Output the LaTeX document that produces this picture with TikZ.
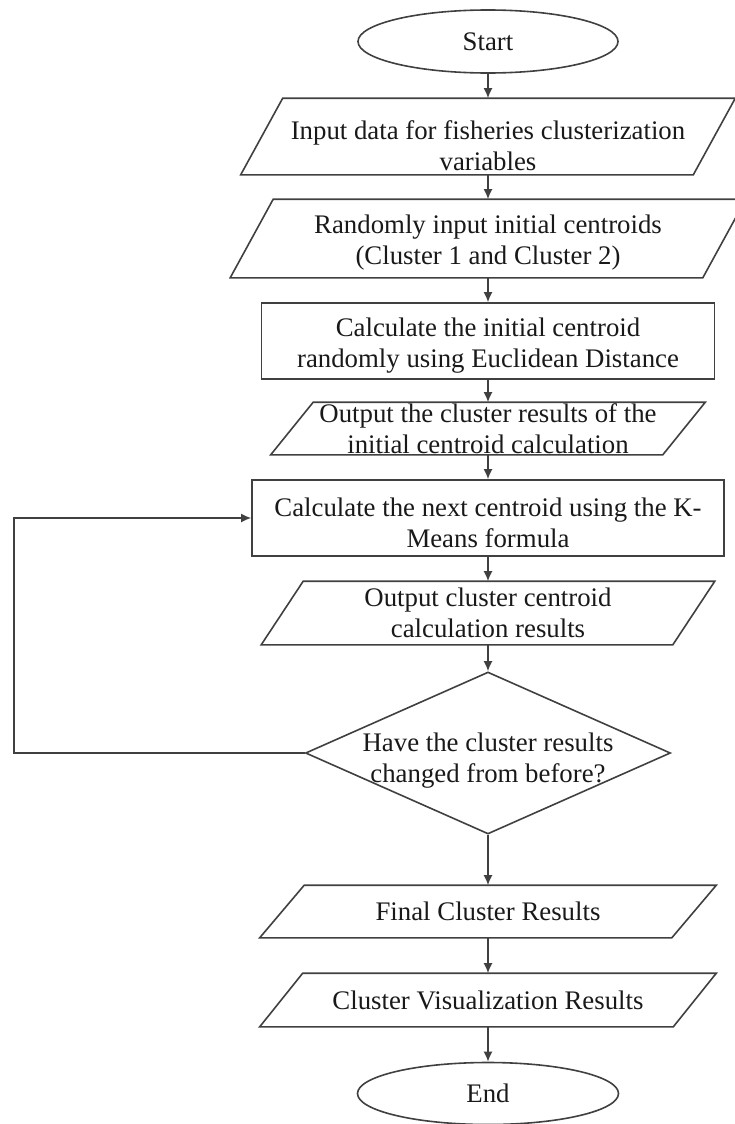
\documentclass[tikz,border=0pt]{standalone}
\usepackage{fontspec}
\setmainfont{Liberation Serif}
\usetikzlibrary{arrows.meta,positioning,shapes.geometric}

\begin{document}
\begin{tikzpicture}[->,>={Latex[length=5pt,width=4.5pt]},x=0.5pt,y=-0.5pt,line width=0.8pt,
	main node/.style={draw=black!75,text=black!90,align=center,inner xsep=2pt,inner ysep=1pt,
		font=\fontsize{13.4}{15.5}\selectfont},
	term/.style={main node,ellipse,minimum width=130pt,minimum height=31.5pt},
	io/.style={main node,rectangle,draw=none},
	proc/.style={main node,rectangle,minimum height=38pt},
	cond/.style={main node,diamond,aspect=2.25,inner xsep=-13.5pt,inner ysep=0pt,
		minimum width=182.5pt,minimum height=81pt}]
\useasboundingbox (0,0) rectangle (734,1124);
\node[term] (start) at (488,41.5) {Start};
\node[io,minimum width=246.5pt,minimum height=37.5pt,inner ysep=0pt] (data) [node distance=47.5pt,below of=start] {\rule{0pt}{19pt}Input data for fisheries clusterization\\variables};
\node[io,minimum width=257pt,minimum height=38.5pt] (init) [node distance=51pt,below of=data] {\rule{0pt}{13pt}Randomly input initial centroids\\(Cluster 1 and Cluster 2)};
\node[proc,minimum width=226.5pt] (calc1) [node distance=51.25pt,below of=init] {\rule{0pt}{14pt}Calculate the initial centroid\\randomly using Euclidean Distance};
\node[io,minimum width=216.5pt,minimum height=25.5pt,inner ysep=-1.5pt] (out1) [node distance=43.75pt,below of=calc1] {Output the cluster results of the\\initial centroid calculation};
\node[proc,minimum width=236pt] (calc2) [node distance=44.75pt,below of=out1] {\rule{0pt}{14pt}Calculate the next centroid using the K-\\Means formula};
\node[io,minimum width=226pt,minimum height=31pt] (out2) [node distance=47.5pt,below of=calc2] {Output cluster centroid\\calculation results};
\node[cond] (check) [node distance=70pt,below of=out2] {\rule{0pt}{17pt}Have the cluster results\\changed from before?};
\node[io,minimum width=227.5pt,minimum height=25.5pt] (final) [node distance=79.25pt,below of=check] {Final Cluster Results};
\node[io,minimum width=227.5pt,minimum height=26pt] (visual) [node distance=44.25pt,below of=final] {Cluster Visualization Results};
\node[term,minimum width=130.5pt,minimum height=31pt] (end) [node distance=46.75pt,below of=visual] {End};
% parallelogram outlines of the input/output boxes
\foreach \n/\s in {data/21,init/21.5,out1/21.25,out2/21,final/22.25,visual/21.5}
	\draw[-,black!75] ([xshift=\s pt]\n.north west) -- (\n.north east)
		-- ([xshift=-\s pt]\n.south east) -- (\n.south west) -- cycle;
\coordinate (loop) at (14,753);
\path[color=black!75]
	(start) edge (data)
	(data) edge (init)
	(init) edge (calc1)
	(calc1) edge (out1)
	(out1) edge (calc2)
	(calc2) edge (out2)
	(out2) edge (check)
	(check) edge (final)
	(final) edge (visual)
	(visual) edge (end);
\draw[black!75] (check.west) -- (check.west -| loop) |- (calc2.west);
\end{tikzpicture}
\end{document}
